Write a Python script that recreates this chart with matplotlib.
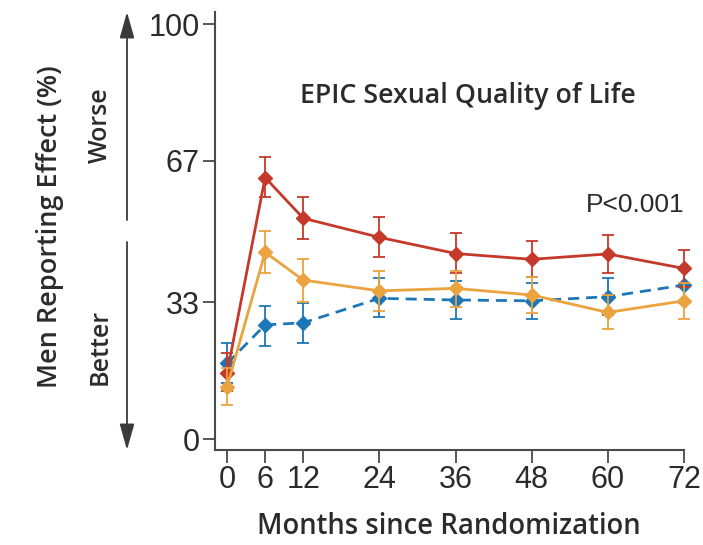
import matplotlib
matplotlib.use("Agg")
import matplotlib.pyplot as plt
from matplotlib.patches import FancyArrowPatch

# --- data -------------------------------------------------------------
months = [0, 6, 12, 24, 36, 48, 60, 72]

prostatectomy = [15.9, 63.0, 53.2, 48.6, 44.7, 43.3, 44.6, 41.1]
prostatectomy_lo = [11.5, 58.2, 48.1, 43.8, 40.1, 39.0, 39.9, 36.7]
prostatectomy_hi = [20.7, 68.0, 58.4, 53.4, 49.6, 47.6, 49.2, 45.5]

radiotherapy = [12.6, 45.0, 38.3, 35.7, 36.3, 34.7, 30.5, 33.3]
radiotherapy_lo = [8.2, 39.9, 33.1, 30.9, 31.7, 30.3, 26.4, 28.9]
radiotherapy_hi = [17.0, 50.2, 43.4, 40.5, 40.6, 39.0, 34.6, 37.5]

monitoring = [18.2, 27.5, 28.0, 33.9, 33.5, 33.3, 34.3, 37.1]
monitoring_lo = [13.4, 22.5, 23.2, 29.3, 28.9, 28.9, 29.9, 32.7]
monitoring_hi = [23.2, 32.1, 32.8, 38.9, 38.1, 37.7, 38.7, 41.5]

x_ticks = [0, 6, 12, 24, 36, 48, 60, 72]
y_ticks = [0, 33, 67, 100]

title = "EPIC Sexual Quality of Life"
p_text = "P<0.001"
x_label = "Months since Randomization"
y_label = "Men Reporting Effect (%)"

# --- style ------------------------------------------------------------
RED = "#C5392B"
ORANGE = "#EBA33F"
BLUE = "#1C77B9"
INK = "#2b2b2b"
AXIS = "#4a4a4a"

tick_font = ["Liberation Sans Narrow", "Liberation Sans", "DejaVu Sans"]
label_font = ["Open Sans", "Lato", "DejaVu Sans"]

W, H = 703, 545
fig = plt.figure(figsize=(W / 100, H / 100), dpi=100)
fig.patch.set_facecolor("white")

def fx(px):
    return px / W

def fy(py):
    return 1 - py / H

ax = fig.add_axes([fx(215), fy(450), fx(684) - fx(215), fy(12) - fy(450)])
ax.set_xlim(-1.9, 72)
ax.set_ylim(-2.65, 102.9)


def draw_series(vals, lo, hi, color, ls, z):
    yerr = [[v - l for v, l in zip(vals, lo)], [h - v for v, h in zip(vals, hi)]]
    ax.errorbar(months, vals, yerr=yerr, fmt="none", ecolor=color,
                elinewidth=1.3, capsize=4.2, capthick=1.3, zorder=z, clip_on=False)
    ax.plot(months, vals, color=color, lw=2.0, ls=ls, marker="D",
            markersize=7.3, markeredgecolor=color, markerfacecolor=color,
            zorder=z + 0.5, clip_on=False)


draw_series(monitoring, monitoring_lo, monitoring_hi, BLUE, (0, (4, 2.5)), 3)
draw_series(prostatectomy, prostatectomy_lo, prostatectomy_hi, RED, "-", 4)
draw_series(radiotherapy, radiotherapy_lo, radiotherapy_hi, ORANGE, "-", 5)

# axes styling
for side in ("top", "right"):
    ax.spines[side].set_visible(False)
for side in ("left", "bottom"):
    ax.spines[side].set_color(AXIS)
    ax.spines[side].set_linewidth(1.5)

ax.set_xticks(x_ticks)
ax.set_yticks(y_ticks)
ax.set_xticklabels([str(t) for t in x_ticks])
ax.set_yticklabels([str(t) for t in y_ticks])
ax.tick_params(axis="both", direction="out", length=9, width=1.3, color=AXIS,
               labelcolor=INK, labelsize=22, pad=2)
for lab in ax.get_xticklabels() + ax.get_yticklabels():
    lab.set_family(tick_font)

# texts
fig.text(fx(468), fy(96), title, ha="center", va="center", fontsize=19.3,
         fontweight="semibold", color=INK, family=label_font)
fig.text(fx(635), fy(205), p_text, ha="center", va="center", fontsize=19,
         color=INK, family=tick_font)
fig.text(fx(449), fy(527), x_label, ha="center", va="center", fontsize=19.8,
         fontweight="semibold", color=INK, family=label_font)
fig.text(fx(50), fy(227), y_label, ha="center", va="center", rotation=90,
         fontsize=19.5, fontweight="semibold", color=INK, family=label_font)
fig.text(fx(100), fy(125), "Worse", ha="center", va="center", rotation=90,
         fontsize=18, fontweight="semibold", color=INK, family=label_font)
fig.text(fx(100), fy(347), "Better", ha="center", va="center", rotation=90,
         fontsize=18, fontweight="semibold", color=INK, family=label_font)

# direction arrows
for y0, y1 in ((220, 12), (242, 450)):
    arr = FancyArrowPatch((fx(127), fy(y0)), (fx(127), fy(y1)),
                          transform=fig.transFigure,
                          arrowstyle="-|>,head_length=1.6,head_width=0.45",
                          mutation_scale=10, lw=1.3, color="#3a3a3a",
                          shrinkA=0, shrinkB=0)
    fig.add_artist(arr)

fig.savefig("out.png", dpi=100, facecolor="white")
